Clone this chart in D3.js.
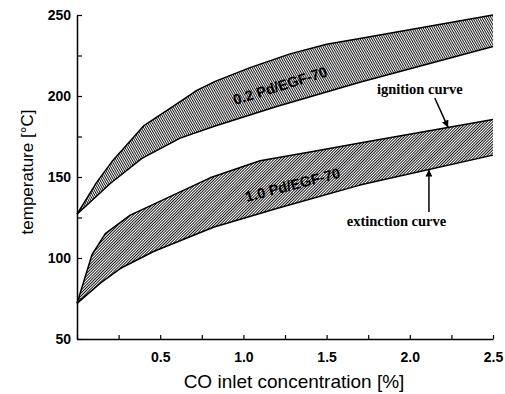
<!DOCTYPE html>
<html>
<head>
<meta charset="utf-8">
<script src="https://cdn.jsdelivr.net/npm/d3@7"></script>
<style>
  body { margin: 0; background: #fff; }
</style>
</head>
<body>
<div id="chart"></div>
<script>
// CO inlet concentration [%] vs temperature [°C]
const ign02X = [0, 0.12, 0.21, 0.40, 0.62, 0.72, 0.83, 1.04, 1.28, 1.50, 1.70, 2.50];
const ign02T = [127, 147, 159.5, 181.5, 196.5, 203.5, 209, 217.5, 226, 232, 235.5, 250];
const ext02X = [0, 0.20, 0.39, 0.62, 0.83, 1.20, 1.70, 2.50];
const ext02T = [127, 146, 161.5, 174, 181.5, 193.5, 208.5, 230.5];

const ign10X = [0, 0.09, 0.17, 0.32, 0.52, 0.80, 1.10, 1.40, 1.70, 2.50];
const ign10T = [72, 102, 115, 126.5, 136, 149.5, 160, 165.5, 171, 185.5];
const ext10X = [0, 0.14, 0.26, 0.46, 0.82, 1.20, 1.70, 2.50];
const ext10T = [72, 84.5, 93.5, 104, 119, 130.5, 145, 163.5];

const xTicks = [0.5, 1.0, 1.5, 2.0, 2.5];
const yTicks = [50, 100, 150, 200, 250];

const width = 505;
const height = 394;

const x = d3.scaleLinear().domain([0, 2.5]).range([77, 493]);
const y = d3.scaleLinear().domain([50, 250]).range([339, 15]);

const svg = d3.select("#chart")
    .append("svg")
    .attr("width", width)
    .attr("height", height);

const defs = svg.append("defs");

// hatch patterns for the two bands
function hatch(id, angle) {
    const p = defs.append("pattern")
        .attr("id", id)
        .attr("patternUnits", "userSpaceOnUse")
        .attr("width", 2)
        .attr("height", 10)
        .attr("patternTransform", `rotate(${angle})`);
    p.append("rect").attr("width", 2).attr("height", 10).attr("fill", "#fff");
    p.append("line")
        .attr("x1", 0.5).attr("x2", 0.5)
        .attr("y1", 0).attr("y2", 10)
        .attr("stroke", "#000")
        .attr("stroke-width", 0.9);
}
hatch("hatchUp", -30);
hatch("hatchLow", 45);

defs.append("marker")
    .attr("id", "arrow")
    .attr("viewBox", "0 0 10 10")
    .attr("refX", 10).attr("refY", 5)
    .attr("markerWidth", 7).attr("markerHeight", 7)
    .attr("markerUnits", "userSpaceOnUse")
    .attr("orient", "auto")
    .append("path")
    .attr("d", "M0,0 L10,5 L0,10 Z")
    .attr("fill", "#000");

const pts = (xs, ts) => xs.map((v, i) => [v, ts[i]]);

const line = d3.line().x(d => x(d[0])).y(d => y(d[1]));

// band = upper curve followed by lower curve reversed
function band(upper, lower, fillId) {
    const ring = upper.concat(lower.slice().reverse());
    svg.append("path")
        .attr("d", line(ring) + "Z")
        .attr("fill", `url(#${fillId})`)
        .attr("stroke", "none");
    [upper, lower].forEach(c => {
        svg.append("path")
            .attr("d", line(c))
            .attr("fill", "none")
            .attr("stroke", "#000")
            .attr("stroke-width", 1.5)
            .attr("stroke-linejoin", "round");
    });
}
band(pts(ign02X, ign02T), pts(ext02X, ext02T), "hatchUp");
band(pts(ign10X, ign10T), pts(ext10X, ext10T), "hatchLow");

// axes
const yAxis = d3.axisLeft(y)
    .tickValues(d3.range(50, 251, 25))
    .tickSizeInner(-5)
    .tickSizeOuter(0)
    .tickFormat(d => yTicks.includes(d) ? d : "");
const gy = svg.append("g").attr("transform", `translate(${x(0)},0)`).call(yAxis);

const xAxis = d3.axisBottom(x)
    .tickValues(d3.range(0, 2.51, 0.25))
    .tickSizeInner(-4)
    .tickSizeOuter(0)
    .tickFormat(d => xTicks.some(t => Math.abs(t - d) < 1e-6) ? d3.format(".1f")(d) : "");
const gx = svg.append("g").attr("transform", `translate(0,${y(50)})`).call(xAxis);

[gx, gy].forEach(g => {
    g.select(".domain").attr("stroke", "#000").attr("stroke-width", 1.5);
    g.selectAll(".tick line").attr("stroke", "#000").attr("stroke-width", 1.2);
    g.selectAll(".tick text")
        .attr("fill", "#000")
        .style("font-family", "Arial, 'Liberation Sans', sans-serif")
        .style("font-weight", "bold")
        .style("font-size", "14px");
});
gy.selectAll(".tick text").attr("x", -6);
gx.selectAll(".tick text").attr("y", 13);

// axis titles
svg.append("text")
    .attr("x", 294)
    .attr("y", 388)
    .attr("text-anchor", "middle")
    .style("font-family", "Arial, 'Liberation Sans', sans-serif")
    .style("font-size", "19px")
    .text("CO inlet concentration [%]");

svg.append("text")
    .attr("transform", `translate(33,172) rotate(-90)`)
    .attr("text-anchor", "middle")
    .style("font-family", "Arial, 'Liberation Sans', sans-serif")
    .style("font-size", "17px")
    .text("temperature [°C]");

// band labels
const bandLabels = [
    { text: "0.2 Pd/EGF-70", x: 0.95, t: 194.4, angle: -17.3 },
    { text: "1.0 Pd/EGF-70", x: 1.02, t: 134.6, angle: -14.6 }
];
bandLabels.forEach(d => {
    svg.append("text")
        .attr("transform", `translate(${x(d.x)},${y(d.t)}) rotate(${d.angle})`)
        .style("font-family", "Arial, 'Liberation Sans', sans-serif")
        .style("font-weight", "bold")
        .style("font-size", "14.5px")
        .text(d.text);
});

// annotations with arrows
const notes = [
    { text: "ignition curve", tx: 2.06, tt: 201.2, from: [2.15, 198.8], to: [2.23, 180.6] },
    { text: "extinction curve", tx: 1.92, tt: 119.8, from: [2.115, 128.4], to: [2.115, 154.6] }
];
notes.forEach(d => {
    svg.append("text")
        .attr("x", x(d.tx))
        .attr("y", y(d.tt))
        .attr("text-anchor", "middle")
        .style("font-family", "'Liberation Serif', 'Times New Roman', serif")
        .style("font-weight", "bold")
        .style("font-size", "14.5px")
        .text(d.text);
    svg.append("line")
        .attr("x1", x(d.from[0])).attr("y1", y(d.from[1]))
        .attr("x2", x(d.to[0])).attr("y2", y(d.to[1]))
        .attr("stroke", "#000")
        .attr("stroke-width", 1.5)
        .attr("marker-end", "url(#arrow)");
});
</script>
</body>
</html>
